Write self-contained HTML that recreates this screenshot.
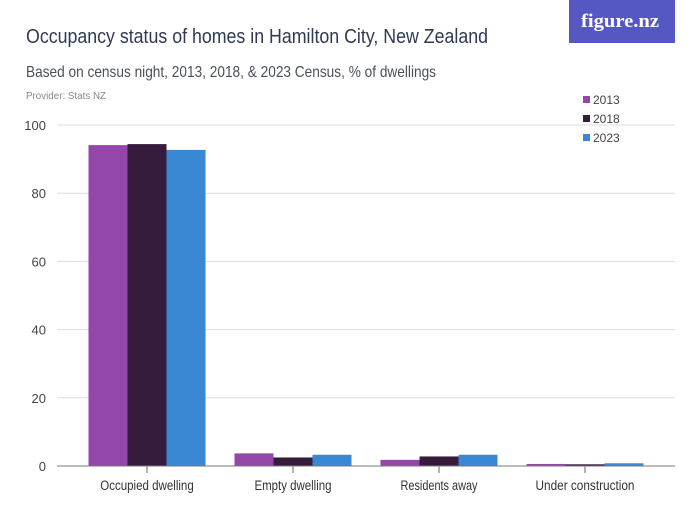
<!DOCTYPE html>
<html><head><meta charset="utf-8"><style>
body{margin:0;background:#fff;}
svg{display:block;font-family:"Liberation Sans",sans-serif;}
</style></head><body>
<svg width="700" height="525" viewBox="0 0 700 525">
<rect x="0" y="0" width="700" height="525" fill="#fff"/>
<text x="26" y="43" font-size="20" fill="#2e3a55" textLength="462" lengthAdjust="spacingAndGlyphs">Occupancy status of homes in Hamilton City, New Zealand</text>
<text x="26" y="77" font-size="16" fill="#4a4f5a" textLength="410" lengthAdjust="spacingAndGlyphs">Based on census night, 2013, 2018, &amp; 2023 Census, % of dwellings</text>
<text x="26" y="99" font-size="10.5" fill="#888" textLength="80" lengthAdjust="spacingAndGlyphs">Provider: Stats NZ</text>
<g>
<rect x="569" y="0" width="106" height="43" fill="#5558c3"/>
<text x="620" y="27" font-size="19" fill="#fff" text-anchor="middle" font-family="Liberation Serif,serif" font-weight="bold" textLength="78" lengthAdjust="spacingAndGlyphs">figure.nz</text>
</g>
<g id="grid"></g><g id="bars"></g><g id="xaxis"></g><g id="legend"></g>
</svg>
<script>
const categories=["Occupied dwelling","Empty dwelling","Residents away","Under construction"];
const series=["2013","2018","2023"];
const v2013=[94.1,3.7,1.8,0.6];
const v2018=[94.4,2.5,2.8,0.5];
const v2023=[92.7,3.3,3.3,0.8];
const yTicks=[0,20,40,60,80,100];
const colors=["#9447aa","#351c3c","#3a88d4"];
const NS="http://www.w3.org/2000/svg";
const y0=466,y100=125;
const y=v=>y0-(v/100)*(y0-y100);
const xc=i=>147+i*146;
const bw=39;
function mk(t,a,p){const e=document.createElementNS(NS,t);for(const k in a)e.setAttribute(k,a[k]);p.appendChild(e);return e;}
const grid=document.getElementById('grid');
yTicks.forEach(t=>{
  if(t>0){const l=mk('line',{x1:57,x2:675,y1:y(t),y2:y(t),stroke:'#ddd','stroke-width':1},grid);
  
  }
  const tx=mk('text',{x:46,y:y(t)+5,'font-size':13,fill:'#444','text-anchor':'end'},grid);
  tx.textContent=t;
  
  
});
const bars=document.getElementById('bars');
const vals=[v2013,v2018,v2023];
categories.forEach((c,i)=>{
  vals.forEach((arr,s)=>{
    const x=xc(i)-1.5*bw+s*bw;
    const r=mk('rect',{x:x,y:y(arr[i]),width:bw,height:y0-y(arr[i]),fill:colors[s]},bars);
    
    
  });
});
const xa=document.getElementById('xaxis');
const al=mk('line',{x1:57,x2:675,y1:y0,y2:y0,stroke:'#777','stroke-width':1},xa);


categories.forEach((c,i)=>{
  const tk=mk('line',{x1:xc(i),x2:xc(i),y1:y0,y2:y0+7,stroke:'#999','stroke-width':1.5},xa);
  
  
  const t=mk('text',{x:xc(i),y:490,'font-size':13.5,fill:'#333','text-anchor':'middle',textLength:c.length*5.5,lengthAdjust:'spacingAndGlyphs'},xa);
  t.textContent=c;
  
  
});
const lg=document.getElementById('legend');
series.forEach((s,k)=>{
  const g=mk('g',{},lg);
  
  
  mk('rect',{x:583,y:96+k*19,width:7,height:7,fill:colors[k]},g);
  const t=mk('text',{x:593,y:104+k*19,'font-size':12,fill:'#444'},g);
  t.textContent=s;
});
</script>
</body></html>
